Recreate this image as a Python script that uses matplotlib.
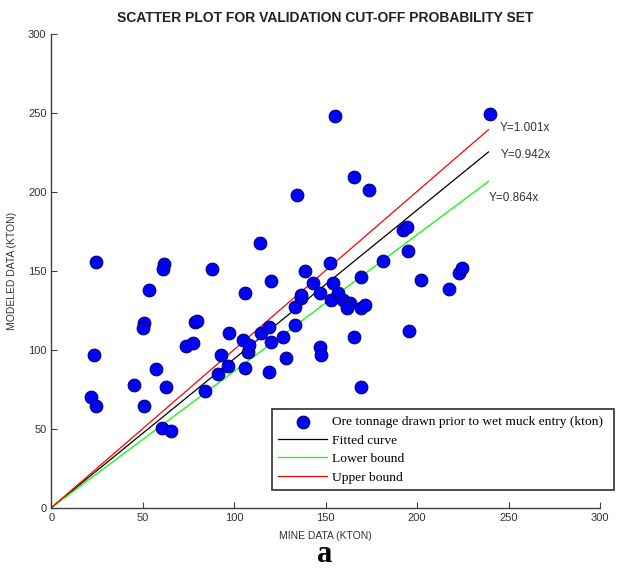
import matplotlib
matplotlib.use('Agg')
import matplotlib.pyplot as plt
from matplotlib import font_manager

# mine data (x) vs modeled data (y), kton
mine = [24.6, 23.5, 21.6, 24.6, 45.1, 50.5, 50.5, 50.0, 53.3, 57.5,
        62.5, 60.7, 65.6, 61.5, 60.8, 73.5, 77.7, 78.4, 79.9, 84.2,
        88.1, 90.9, 92.7, 96.4, 96.9, 104.6, 106.0, 106.0, 107.3, 108.2,
        114.1, 114.7, 119.3, 118.9, 120.2, 120.0, 126.6, 128.4, 133.3, 133.3,
        134.3, 136.7, 136.7, 138.5, 143.1, 146.7, 146.7, 147.3, 152.2, 153.0,
        154.1, 154.9, 156.8, 159.6, 163.2, 161.6, 165.6, 165.4, 169.6, 169.6,
        171.4, 169.6, 173.6, 181.5, 192.1, 194.7, 194.9, 195.6, 202.2, 217.2,
        222.7, 224.6, 239.8]
modeled = [155.7, 96.6, 70.3, 64.6, 77.8, 64.6, 117.1, 113.5, 137.7, 88.0,
           76.2, 50.3, 48.5, 154.2, 151.1, 102.5, 104.0, 117.3, 118.4, 74.0,
           151.1, 84.6, 96.6, 89.7, 110.8, 106.1, 88.2, 135.7, 98.7, 103.0,
           167.3, 110.4, 114.6, 86.1, 105.1, 143.4, 108.2, 94.6, 115.6, 126.8,
           197.7, 132.5, 134.6, 150.0, 142.0, 135.7, 101.9, 96.6, 155.0, 131.5,
           142.5, 247.9, 135.7, 131.5, 129.8, 126.2, 107.8, 209.1, 146.0, 126.2,
           128.3, 76.6, 201.0, 156.3, 175.6, 177.5, 162.7, 112.0, 143.8, 138.4,
           148.4, 151.5, 249.2]

line_x = [0, 239]
slope_fit = 0.942
slope_low = 0.864
slope_up = 1.001

# narrow font for the title if one is around
names = set(f.name for f in font_manager.fontManager.ttflist)
title_font, title_size = 'Liberation Sans', 10.0
for nm in ['Liberation Sans Narrow', 'DejaVu Sans Condensed']:
    if nm in names:
        title_font, title_size = nm, 11.5
        break

fig = plt.figure(figsize=(6.22, 5.70), dpi=100)
ax = fig.add_axes([51.3/622, 1 - 507.7/570, (600 - 51.3)/622, (507.7 - 33.7)/570])

axcol = '#404040'
ax.scatter(mine, modeled, s=85, c='#0000ff', edgecolors='#000060', linewidths=0.7,
           zorder=3, label='Ore tonnage drawn prior to wet muck entry (kton)')
ax.plot(line_x, [v*slope_fit for v in line_x], color='black', lw=0.9, label='Fitted curve', zorder=2)
ax.plot(line_x, [v*slope_low for v in line_x], color='#00ff00', lw=0.9, label='Lower bound', zorder=2)
ax.plot(line_x, [v*slope_up for v in line_x], color='#ff0000', lw=0.9, label='Upper bound', zorder=2)

ax.text(245, 240, 'Y=1.001x', fontsize=8.5, color='#333333', va='center', family='Liberation Sans')
ax.text(246, 223, 'Y=0.942x', fontsize=8.5, color='#333333', va='center', family='Liberation Sans')
ax.text(239, 196, 'Y=0.864x', fontsize=8.5, color='#333333', va='center', family='Liberation Sans')

ax.set_xlim(0, 300)
ax.set_ylim(0, 300)
ax.set_xticks(range(0, 301, 50))
ax.set_yticks(range(0, 301, 50))
for s in ['top', 'right']:
    ax.spines[s].set_visible(False)
for s in ['left', 'bottom']:
    ax.spines[s].set_color(axcol)
    ax.spines[s].set_linewidth(1.0)
ax.tick_params(direction='in', length=4, color=axcol, labelcolor='#333333', labelsize=8)
for lab in ax.get_xticklabels() + ax.get_yticklabels():
    lab.set_family('Liberation Sans')

ax.set_xlabel('MINE DATA (KTON)', fontsize=7.5, color='#333333', family='Liberation Sans', labelpad=6)
ax.set_ylabel('MODELED DATA (KTON)', fontsize=7.5, color='#333333', family='Liberation Sans', labelpad=8)

fig.text(325/622, 1 - 18/570, 'SCATTER PLOT FOR VALIDATION CUT-OFF PROBABILITY SET',
         ha='center', va='center', fontsize=title_size, fontweight='bold',
         family=title_font, color='#222222')

leg = ax.legend(loc='upper left', bbox_to_anchor=(265/622, 1 - 408/570, 356/622, 0.01),
                bbox_transform=fig.transFigure, mode='expand', prop={'family': 'Liberation Serif', 'size': 9.7},
                handlelength=3.6, handletextpad=0.4, labelspacing=0.45, borderpad=0.5,
                fancybox=False, framealpha=1, edgecolor='#303030', scatterpoints=1)
leg.get_frame().set_linewidth(1.2)

fig.text(325/622, 1 - 554/570, 'a', ha='center', va='center', fontsize=22, fontweight='bold',
         family='Liberation Serif')

fig.savefig('out.png', dpi=100)
